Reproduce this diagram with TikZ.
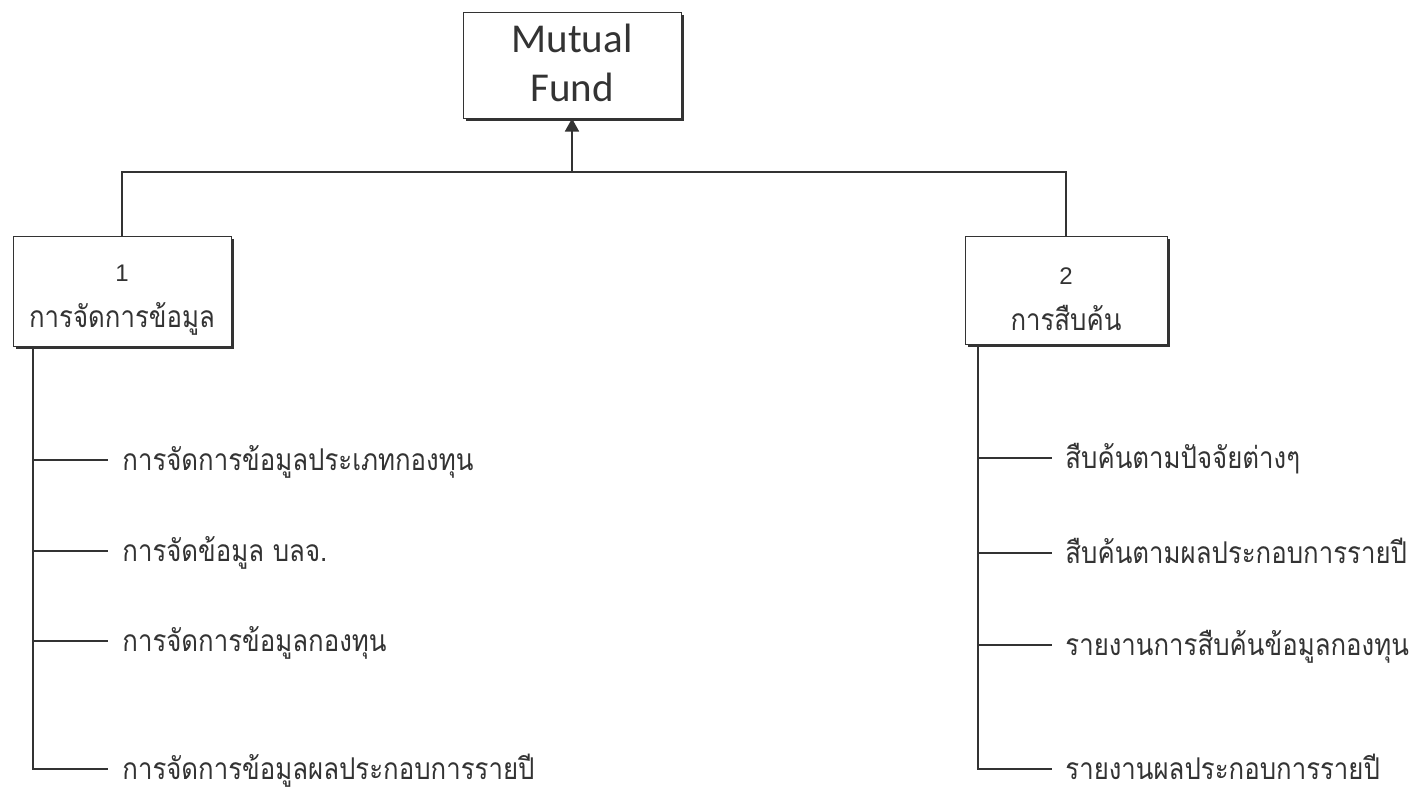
\documentclass[tikz,border=0pt]{standalone}
\usepackage{fontspec}
\setmainfont{Liberation Sans}
\newfontfamily\thaifont[Script=Thai,FakeStretch=0.86]{Loma}
\newfontfamily\titlefont{Carlito}
\usetikzlibrary{arrows.meta,shadows}
\definecolor{ink}{HTML}{333333}
\begin{document}
\begin{tikzpicture}[x=0.5pt,y=-0.5pt,
  box/.style={draw=ink, fill=white, line width=0.5pt, inner sep=0pt,
    drop shadow={shadow xshift=1.6pt, shadow yshift=-1.6pt, fill=ink, opacity=1}},
  boxtext/.style={align=center, inner sep=0pt, text=ink,
    font=\fontsize{12}{23}\selectfont},
  item/.style={anchor=west, inner sep=0pt, text=ink,
    text height=12pt, text depth=2pt,
    font=\thaifont\fontsize{15}{18}\selectfont},
  wire/.style={draw=ink, line width=0.8pt}]
\useasboundingbox (0,0) rectangle (1420,789);

% root
\node[box, minimum width=109pt, minimum height=53pt] (root) at (572,65) {};
\node[boxtext, font=\titlefont\fontsize{20.5}{24.5}\selectfont] (roott)
  at ([yshift=1pt]root.center) {Mutual\\Fund};

% first-level boxes
\node[box, minimum width=109pt, minimum height=55pt] (m1) at (122,291) {};
\node[boxtext] (m1t) at ([yshift=-4.5pt]m1.center)
  {1\\{\thaifont\fontsize{15}{18}\selectfont การจัดการข้อมูล}};
\node[box, minimum width=101pt, minimum height=54pt] (m2) at (1066,290) {};
\node[boxtext] (m2t) at ([yshift=-4.5pt]m2.center)
  {2\\{\thaifont\fontsize{15}{18}\selectfont การสืบค้น}};

% bus between the levels
\coordinate (busL) at (m1.north |- 0,172);
\coordinate (busR) at (m2.north |- 0,172);
\coordinate (busM) at (root.south |- 0,172);
\draw[wire] (m1.north) -- (busL) -- (busR) -- (m2.north);
\draw[wire, -{Triangle[length=6.5pt,width=7pt]}] (busM) -- (root.south);

% left branch items
\node[item] (a1) at (122,460) {การจัดการข้อมูลประเภทกองทุน};
\node[item] (a2) at (122,551) {การจัดข้อมูล บลจ.};
\node[item] (a3) at (122,641) {การจัดการข้อมูลกองทุน};
\node[item] (a4) at (122,769) {การจัดการข้อมูลผลประกอบการรายปี};

\coordinate (lt) at (33,0);
\draw[wire] (lt |- m1.south) -- (lt |- a4.west) -- ([xshift=-7pt]a4.west);
\foreach \n in {a1,a2,a3}
  \draw[wire] (lt |- \n.west) -- ([xshift=-7pt]\n.west);

% right branch items
\node[item] (b1) at (1065,458) {สืบค้นตามปัจจัยต่างๆ};
\node[item] (b2) at (1065,553) {สืบค้นตามผลประกอบการรายปี};
\node[item] (b3) at (1065,645) {รายงานการสืบค้นข้อมูลกองทุน};
\node[item] (b4) at (1065,769) {รายงานผลประกอบการรายปี};

\coordinate (rt) at (978,0);
\draw[wire] (rt |- m2.south) -- (rt |- b4.west) -- ([xshift=-6.5pt]b4.west);
\foreach \n in {b1,b2,b3}
  \draw[wire] (rt |- \n.west) -- ([xshift=-6.5pt]\n.west);
\end{tikzpicture}
\end{document}
